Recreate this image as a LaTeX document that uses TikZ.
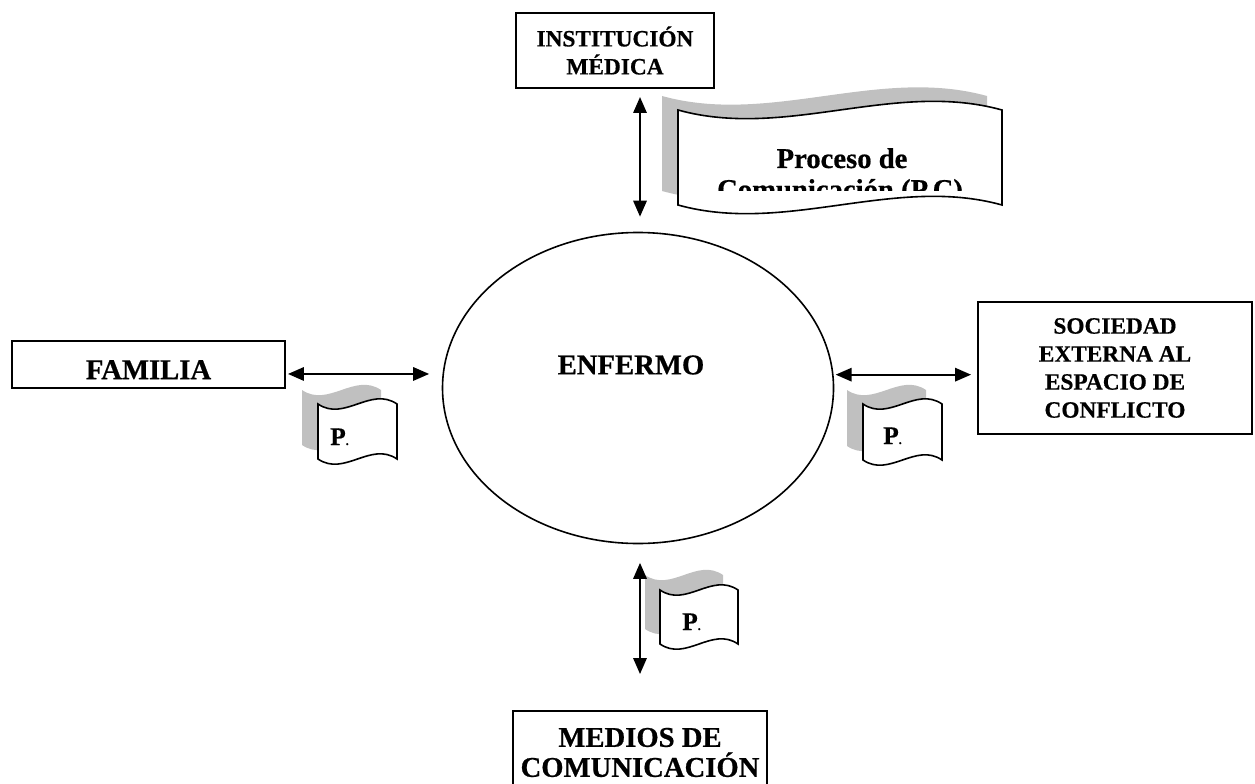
\documentclass[tikz,border=0pt]{standalone}
\usepackage{fontspec}
\setmainfont{Liberation Serif}[BoldFeatures={FakeBold=0.6}]
\usetikzlibrary{arrows.meta,shapes.geometric,calc}
\definecolor{ShadowClr}{RGB}{192,192,192}
\definecolor{LineClr}{RGB}{0,0,0}

\newcommand{\wavepath}[5]{(#1,#2) .. controls ({#1+#3/3},{#2+#5}) and ({#1+2*#3/3},{#2-#5}) .. ({#1+#3},#2)
  -- ({#1+#3},{#2+#4}) .. controls ({#1+2*#3/3},{#2+#4-#5}) and ({#1+#3/3},{#2+#4+#5}) .. (#1,{#2+#4}) -- cycle}

\tikzset{
  boxnode/.style={draw=LineClr,line width=1.4pt,align=center,inner sep=0pt,
    font=\bfseries\fontsize{17.5}{21}\selectfont},
  bigtxt/.style={inner sep=0pt,font=\bfseries\fontsize{21.5}{22.5}\selectfont},
  flagtxt/.style={inner sep=0pt,anchor=base west,font=\bfseries\fontsize{19}{19}\selectfont},
  biarrow/.style={{Triangle[length=12pt,width=10pt]}-{Triangle[length=12pt,width=10pt]},line width=1.6pt},
  shadowwave/.style={fill=ShadowClr},
  frontwave/.style={fill=white,draw=LineClr,line width=1.2pt}
}

\begin{document}
\begin{tikzpicture}[x=0.75pt,y=-0.75pt]
\useasboundingbox (0,0) rectangle (1255,784);

\node[boxnode,minimum width=148.5pt,minimum height=56.25pt] (institucion) at (615,50.5) {INSTITUCIÓN\\MÉDICA};
\node[boxnode,bigtxt,minimum width=204.75pt,minimum height=35.25pt,text height=22pt,text depth=0pt] (familia) at (148.5,364.5) {FAMILIA};
\node[boxnode,minimum width=205.5pt,minimum height=99pt] (sociedad) at (1115,368) {SOCIEDAD\\EXTERNA AL\\ESPACIO DE\\CONFLICTO};
\node[boxnode,bigtxt,minimum width=190.5pt,minimum height=62.25pt] (medios) at (640,752.5) {MEDIOS DE\\COMUNICACIÓN};

\node[ellipse,draw=LineClr,line width=1.2pt,minimum width=293.25pt,minimum height=233.25pt,inner sep=0pt] (enfermo) at (638,388) {};
\node[bigtxt] (enfermoTxt) at (631,365) {ENFERMO};

% banner of the process
\fill[shadowwave] \wavepath{662}{96}{325}{95}{30};
\draw[frontwave] \wavepath{678}{110}{324}{95}{30};
\begin{scope}
\clip (660,90) rectangle (1010,191);
\node[bigtxt,anchor=base] (procA) at (842,168) {Proceso de};
\node[bigtxt,anchor=base] (procB) at (840,199) {Comunicación (P.C)};
\end{scope}

\fill[shadowwave] \wavepath{302}{390}{79}{55}{18};
\draw[frontwave] \wavepath{318}{404}{79}{55}{18};
\node[flagtxt] (pLeft) at (330,445) {P{\fontsize{9}{9}\selectfont.}};

\fill[shadowwave] \wavepath{847}{390}{79}{56}{18};
\draw[frontwave] \wavepath{863}{404}{79}{56}{18};
\node[flagtxt] (pRight) at (883,444) {P{\fontsize{9}{9}\selectfont.}};

\fill[shadowwave] \wavepath{645}{575}{78}{54}{18};
\draw[frontwave] \wavepath{660}{590}{78}{54}{18};
\node[flagtxt] (pBottom) at (682,630) {P{\fontsize{9}{9}\selectfont.}};

\coordinate (topArr) at (640,97);
\coordinate (famArr) at ([yshift=-7.1pt]familia.east);
\coordinate (socArr) at ([yshift=-5pt]sociedad.west);

\draw[biarrow,shorten >=11.25pt] (topArr) -- (topArr |- enfermo.north);
\draw[biarrow,shorten <=1.5pt,shorten >=9.4pt] (famArr) -- (famArr -| enfermo.west);
\draw[biarrow,shorten <=1pt,shorten >=4.5pt] (socArr -| enfermo.east) -- (socArr);
\draw[biarrow,shorten <=13.9pt,shorten >=27pt] (enfermo.south -| medios.north) -- (medios.north);

\end{tikzpicture}
\end{document}
